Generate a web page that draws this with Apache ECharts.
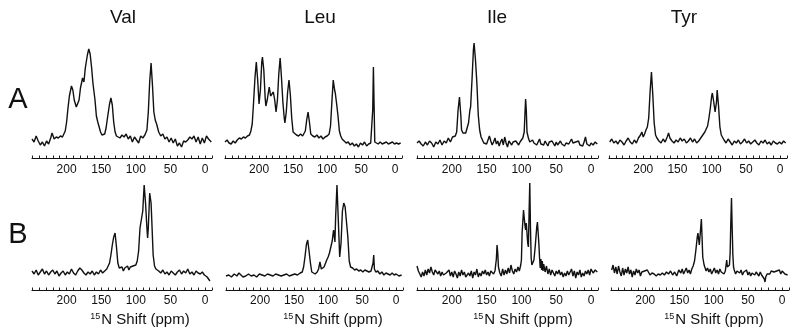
<!DOCTYPE html>
<html>
<head>
<meta charset="utf-8">
<script src="https://cdn.jsdelivr.net/npm/echarts@6/dist/echarts.min.js"></script>
<style>
  html, body { margin: 0; padding: 0; background: #fff; }
  #chart { width: 800px; height: 336px; }
</style>
</head>
<body>
<div id="chart"></div>
<script>
// 15N spectra, [ppm, intensity above baseline]
const valA = [[250,1],[247,-2],[244,4],[241,-1],[238,-5],[235,-2],[232,-6],[229,-1],[226,-4],[223,2],[221,7],[218,1],[215,3],[212,2],[209,4],[206,3],[204,6],[202,9],[200,18],[198,32],[196,44],[193,54],[191,50],[189,40],[186,33],[184,32],[182,40],[180,52],[177,62],[175,58],[173,72],[170,85],[168,91],[166,86],[164,73],[162,57],[159,40],[157,24],[155,18],[153,16],[151,8],[149,5],[147,4],[145,6],[143,12],[141,22],[138,36],[136,42],[134,35],[132,18],[130,8],[128,4],[126,6],[123,2],[120,5],[117,3],[114,6],[111,1],[108,4],[105,-2],[102,3],[99,0],[96,-3],[93,4],[90,2],[87,5],[84,10],[82,28],[80,58],[78,77],[76,55],[74,28],[72,20],[70,16],[67,8],[64,4],[61,6],[58,1],[55,3],[52,-2],[49,2],[46,-3],[43,1],[40,-6],[37,-3],[34,-7],[31,-1],[28,-2],[25,0],[22,3],[19,1],[16,4],[13,-2],[10,3],[7,-4],[4,2],[1,-3],[-2,4],[-5,1],[-9,-2]];
const leuA = [[250,-2],[247,0],[244,-3],[241,-4],[238,-1],[235,-3],[232,0],[229,2],[226,1],[223,3],[220,2],[217,4],[214,5],[212,9],[210,16],[208,38],[206,62],[204,78],[202,60],[200,36],[198,50],[196,78],[195,83],[193,70],[191,42],[190,34],[188,40],[185,53],[183,44],[181,43],[179,48],[177,40],[175,28],[173,40],[171,66],[169,82],[167,62],[165,38],[163,22],[162,17],[160,28],[158,48],[156,60],[154,45],[152,22],[150,8],[148,6],[145,5],[142,4],[139,6],[136,4],[134,6],[132,9],[130,20],[128,28],[126,18],[124,6],[121,4],[118,3],[115,5],[112,2],[109,4],[106,1],[103,3],[100,4],[97,6],[95,14],[93,38],[91,60],[89,50],[88,47],[86,36],[84,24],[82,9],[80,4],[78,1],[75,-1],[72,-3],[69,-2],[66,-5],[63,-3],[60,-6],[57,-4],[54,-7],[51,-3],[48,-5],[45,-2],[42,-6],[39,-4],[36,-3],[34,-2],[33,30],[32,73],[31,35],[30,-2],[28,-3],[25,-4],[22,-2],[19,-4],[16,-3],[13,-2],[10,-4],[7,-3],[4,-2],[1,-4],[-2,-3],[-5,-4],[-8,-3]];
const ileA = [[250,-3],[247,-1],[244,-4],[241,-6],[238,-2],[235,-5],[232,-1],[229,-3],[226,-7],[223,-2],[220,-4],[217,0],[214,-5],[211,-1],[208,-3],[205,2],[202,-2],[199,3],[197,1],[195,4],[193,8],[191,30],[189,43],[187,24],[186,10],[184,7],[182,6],[180,7],[178,9],[176,17],[174,30],[173,33],[171,60],[169,90],[168,97],[166,80],[164,57],[162,25],[160,10],[158,3],[156,0],[154,-3],[152,-1],[150,-4],[148,-2],[146,4],[144,-1],[142,-5],[140,-2],[138,2],[136,-4],[134,-1],[132,-6],[130,-2],[128,1],[126,-5],[124,3],[122,-3],[120,-7],[118,-1],[116,-3],[114,-5],[112,-2],[110,-4],[108,-1],[106,-3],[104,-5],[102,-2],[100,-1],[98,2],[96,8],[95,25],[94,41],[93,30],[92,8],[90,2],[88,-2],[86,-4],[84,0],[82,-3],[80,-1],[78,-5],[76,-2],[74,1],[72,-4],[70,-2],[68,-5],[66,-1],[64,-3],[62,-6],[60,-2],[58,-4],[56,-1],[54,-3],[52,-6],[50,-2],[48,-5],[46,-3],[44,-1],[42,-4],[40,-2],[38,-6],[36,-3],[34,-1],[32,-4],[30,-2],[28,1],[26,-3],[24,-5],[22,-2],[20,-4],[18,-1],[16,-5],[14,-3],[12,-6],[10,-2],[8,3],[6,-4],[4,-2],[2,-6],[0,-3],[-3,-5],[-6,-2],[-9,-4]];
const tyrA = [[249,-2],[246,1],[243,-3],[240,-1],[237,-4],[234,0],[231,-2],[228,-5],[225,-1],[222,2],[219,-2],[216,-4],[213,0],[210,-3],[207,2],[204,5],[202,8],[200,3],[198,6],[196,10],[194,13],[192,22],[190,48],[188,68],[186,45],[184,17],[182,5],[180,2],[177,-1],[174,-3],[171,1],[168,-2],[165,3],[163,7],[161,2],[158,-1],[155,-3],[152,0],[149,-2],[146,2],[143,-1],[140,1],[137,-3],[134,-1],[131,2],[128,-2],[125,1],[122,-3],[119,-1],[116,2],[113,5],[110,8],[108,11],[106,14],[104,22],[102,32],[100,44],[99,47],[97,38],[95,28],[94,27],[93,38],[92,50],[91,52],[90,34],[88,13],[86,5],[84,3],[82,0],[79,-3],[76,1],[73,-2],[70,-5],[67,-1],[64,-3],[61,0],[58,-4],[55,-2],[52,1],[49,-3],[46,-1],[43,-4],[40,-2],[37,0],[34,-3],[31,-5],[28,-1],[25,-3],[22,0],[19,-4],[16,-2],[13,-5],[10,-1],[7,-3],[4,-4],[1,-2],[-2,-4],[-5,-1],[-8,-3]];

const valB = [[250,2],[247,-1],[244,3],[241,-2],[238,1],[235,4],[232,-1],[229,2],[226,-2],[223,1],[220,3],[217,-1],[214,2],[211,-3],[208,0],[205,2],[202,-2],[199,1],[196,-1],[193,4],[190,0],[187,-2],[184,2],[181,5],[178,3],[175,0],[172,-2],[169,1],[166,-1],[163,2],[160,-2],[157,1],[154,-1],[151,3],[148,0],[145,2],[142,4],[140,6],[138,10],[136,18],[134,28],[132,36],[130,40],[128,26],[126,10],[124,5],[122,3],[120,6],[118,2],[116,5],[114,4],[112,7],[110,3],[108,6],[106,4],[104,7],[102,5],[100,8],[98,12],[96,22],[94,45],[92,44],[90,62],[88,88],[86,70],[84,45],[83,35],[82,45],[80,80],[78,70],[77,53],[75,18],[73,7],[71,4],[69,5],[67,2],[64,0],[61,3],[58,-1],[55,1],[52,-2],[49,2],[46,0],[43,-2],[40,1],[37,3],[34,-1],[31,2],[28,0],[25,4],[22,-1],[19,1],[16,-2],[13,2],[10,0],[7,-1],[4,1],[1,-2],[-3,-4],[-7,-8]];
const leuB = [[250,-3],[246,-2],[242,-4],[238,-1],[234,-3],[231,0],[228,-2],[225,-4],[221,-3],[217,-1],[213,-3],[209,-2],[205,-4],[201,-1],[197,-2],[193,-3],[189,-1],[185,-2],[181,-3],[177,-1],[173,-2],[169,-3],[165,-2],[161,-1],[157,-3],[153,-2],[149,-1],[145,-2],[141,0],[138,1],[136,6],[134,16],[132,28],[130,33],[128,22],[126,10],[124,1],[122,0],[119,-1],[116,1],[114,4],[112,11],[110,4],[108,3],[106,6],[104,8],[102,13],[100,16],[98,20],[96,26],[94,32],[92,43],[90,31],[89,55],[87,88],[85,52],[83,16],[81,30],[79,62],[77,70],[75,66],[73,64],[71,36],[69,12],[67,6],[64,5],[61,3],[58,4],[55,2],[52,3],[49,1],[46,3],[43,2],[40,1],[37,2],[35,3],[34,10],[33,18],[32,4],[30,1],[27,2],[24,-1],[21,1],[18,-2],[15,0],[12,-1],[9,-2],[6,0],[3,-2],[0,-1],[-4,-3],[-8,-2]];
const ileB = [[250,7],[248,2],[246,-1],[244,-4],[242,1],[240,-3],[238,3],[236,-2],[234,4],[232,0],[230,6],[228,1],[226,-2],[224,3],[222,5],[220,-1],[218,2],[216,-3],[214,1],[212,-2],[210,-4],[208,0],[206,-2],[204,3],[202,-3],[200,1],[198,-4],[196,2],[194,-1],[192,-5],[190,1],[188,-3],[186,3],[184,-2],[182,1],[180,-4],[178,-6],[176,0],[174,-3],[172,2],[170,-5],[168,1],[166,-2],[164,4],[162,-4],[160,0],[158,-3],[156,2],[154,-1],[152,3],[150,-2],[148,1],[146,-3],[144,2],[142,0],[140,-1],[138,2],[136,14],[135,28],[134,20],[133,6],[131,0],[129,-3],[127,4],[125,-2],[123,3],[121,-1],[119,5],[117,0],[115,8],[113,2],[111,-1],[109,4],[107,1],[105,6],[103,2],[101,8],[100,13],[99,40],[97,63],[95,48],[94,43],[93,50],[91,30],[90,26],[89,60],[88,90],[87,45],[86,15],[85,8],[84,10],[82,13],[80,28],[78,46],[77,51],[75,30],[74,16],[73,5],[72,14],[71,3],[70,12],[69,2],[68,9],[66,1],[64,7],[62,-1],[60,4],[58,-2],[56,3],[54,0],[52,-3],[50,2],[48,-1],[46,3],[44,-2],[42,1],[40,-4],[38,0],[36,-3],[34,2],[32,-2],[30,1],[28,4],[26,-3],[24,2],[22,-5],[20,1],[18,-2],[16,3],[14,-4],[12,0],[10,-3],[8,2],[6,-1],[4,3],[2,-2],[0,4],[-3,0],[-6,3],[-9,1]];
const tyrB = [[249,3],[247,8],[245,0],[243,6],[241,-1],[239,7],[237,1],[235,-3],[233,5],[231,-2],[229,4],[227,0],[225,6],[223,-1],[221,3],[219,-4],[217,2],[215,-2],[213,4],[211,0],[209,3],[207,-3],[205,1],[203,-1],[201,2],[199,0],[197,3],[195,1],[193,-2],[190,0],[187,-1],[184,-3],[181,-1],[178,-2],[175,0],[172,-2],[169,1],[166,-1],[163,2],[160,-2],[157,1],[154,-3],[151,3],[148,0],[146,4],[144,-1],[142,2],[140,5],[138,0],[136,3],[134,-1],[132,4],[130,7],[128,12],[126,23],[124,36],[123,40],[121,28],[120,26],[119,45],[118,54],[117,36],[116,16],[114,8],[113,6],[111,2],[109,5],[107,1],[105,4],[103,-1],[101,2],[99,5],[97,0],[95,3],[93,-1],[91,4],[89,1],[87,3],[85,-1],[83,2],[81,13],[80,6],[78,4],[77,8],[76,20],[75,50],[74,75],[73,45],[72,18],[71,6],[70,3],[68,-1],[66,2],[64,4],[62,0],[60,3],[58,-2],[56,1],[54,-1],[52,3],[50,-2],[48,1],[46,-3],[44,0],[42,2],[40,-2],[38,1],[36,-1],[34,-3],[32,1],[30,-2],[28,-4],[26,-6],[25,-9],[24,-4],[22,-1],[20,1],[18,-1],[16,2],[14,0],[12,1],[10,-1],[8,2],[6,0],[4,3],[2,-1],[0,2],[-2,3],[-4,-1],[-6,1],[-8,-2]];

const residues = ['Val', 'Leu', 'Ile', 'Tyr'];
const rowLabels = ['A', 'B'];
const spectra = [valA, leuA, ileA, tyrA, valB, leuB, ileB, tyrB];
const tickLabels = [0, 50, 100, 150, 200];

const FONT = '"Liberation Sans", Arial, Helvetica, sans-serif';
const chart = echarts.init(document.getElementById('chart'));

// panel boxes: [left, width] per column, rows share the column layout
const cols = [[32, 180], [225, 177], [417, 181], [609, 178]];
const colsB = [[32, 180], [226, 177], [417, 181], [611, 178]];
const rows = [{ top: 40, height: 118, min: -18 }, { top: 173, height: 117, min: -17 }];

const grid = [], xAxis = [], yAxis = [], series = [];
rows.forEach((r, ri) => {
  (ri === 0 ? cols : colsB).forEach((c, ci) => {
    const i = ri * 4 + ci;
    grid.push({ left: c[0], width: c[1], top: r.top, height: r.height });
    xAxis.push({
      type: 'value', gridIndex: i, inverse: true,
      min: -10, max: 250, interval: 10,
      axisLine: { onZero: false, lineStyle: { color: '#111', width: 1.2 } },
      axisTick: { inside: true, length: 2.5, lineStyle: { color: '#222', width: 1 } },
      axisLabel: {
        margin: ri === 0 ? 6 : 5, fontSize: 12, color: '#111', fontFamily: FONT,
        formatter: v => tickLabels.indexOf(v) >= 0 ? String(v) : ''
      },
      splitLine: { show: false }
    });
    yAxis.push({ type: 'value', gridIndex: i, min: r.min, max: 100, show: false });
    series.push({
      type: 'line', xAxisIndex: i, yAxisIndex: i, data: spectra[i],
      showSymbol: false, symbol: 'none',
      lineStyle: { color: '#111', width: 1.4 }
    });
  });
});

const graphic = [];
const titleX = [123, 320, 497, 684];
residues.forEach((t, i) => {
  graphic.push({ type: 'text', x: titleX[i], y: 18,
    style: { text: t, font: '19px ' + FONT, fill: '#111', textAlign: 'center', textVerticalAlign: 'middle' } });
});
[100, 235].forEach((y, i) => {
  graphic.push({ type: 'text', x: 18, y: y,
    style: { text: rowLabels[i], font: '29px ' + FONT, fill: '#111', textAlign: 'center', textVerticalAlign: 'middle' } });
});
const nameX = [140, 333, 523, 714];
nameX.forEach(x => {
  graphic.push({ type: 'text', x: x, y: 320,
    style: {
      text: '{s|15}{n|N Shift (ppm)}', textAlign: 'center', textVerticalAlign: 'middle',
      rich: {
        s: { fontSize: 9, fontFamily: FONT, fill: '#111', verticalAlign: 'top', padding: [0, 1, 6, 0] },
        n: { fontSize: 15, fontFamily: FONT, fill: '#111' }
      }
    } });
});

chart.setOption({
  animation: false,
  backgroundColor: '#fff',
  grid, xAxis, yAxis, series, graphic
});
</script>
</body>
</html>
